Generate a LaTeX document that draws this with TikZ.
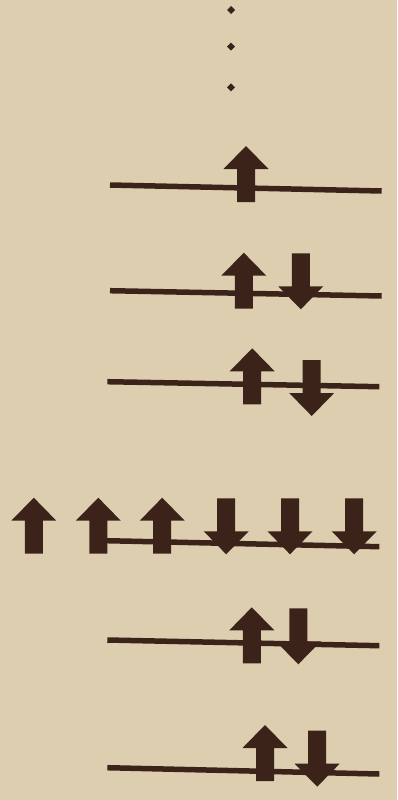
\documentclass[tikz,border=0pt]{standalone}
\usepackage{amsmath}
\usepackage{amssymb}
\definecolor{parchment}{RGB}{221,206,176}
\definecolor{spinbrown}{RGB}{60,35,26}

\begin{document}
\begin{tikzpicture}[x=1pt,y=-1pt]

% Parameters
\def\shaft{9}      % half width of the arrow shaft
\def\head{22.5}    % half width of the arrow head
\def\hlen{23}      % length of the arrow head
\def\alen{56}      % total length of one arrow

% Background (fixes the margins)
\fill[parchment] (0,0) rectangle (397,800);
\useasboundingbox (0,0) rectangle (397,800);

% Dots above the highest level
\foreach \y in {10,46.7,87.3} {
    \fill[spinbrown] (231,\y-4) -- (235,\y) -- (231,\y+4) -- (227,\y) -- cycle;
}

% Energy levels (slightly tilted lines)
\foreach \xa/\ya/\xb/\yb in {110/185/381.7/191, 110/290.7/381.7/296,
        107.3/381.7/379.3/386.7, 106.7/540.7/379.3/546.7,
        107.3/640/379.3/645.7, 107.3/767.7/379.3/774} {
    \draw[spinbrown, line width=5.5pt] (\xa,\ya) -- (\xb,\yb);
}

% Spin up arrows (x of centre / y of tip)
\foreach \x/\y in {246/146, 243.8/252.7, 252.2/348.3, 33.8/497.7,
        98.3/497.7, 162.2/497.7, 251.8/607.3, 265/725} {
    \fill[spinbrown] (\x-\shaft,\y+\alen) -- (\x-\shaft,\y+\hlen)
        -- (\x-\head,\y+\hlen) -- (\x,\y) -- (\x+\head,\y+\hlen)
        -- (\x+\shaft,\y+\hlen) -- (\x+\shaft,\y+\alen) -- cycle;
}

% Spin down arrows (x of centre / y of shaft top)
\foreach \x/\y in {300.8/253.3, 311.7/360, 226.2/498.3, 290/498.3,
        354.2/498.3, 298.3/608.3, 317.2/730.7} {
    \fill[spinbrown] (\x-\shaft,\y) -- (\x-\shaft,\y+\alen-\hlen)
        -- (\x-\head,\y+\alen-\hlen) -- (\x,\y+\alen) -- (\x+\head,\y+\alen-\hlen)
        -- (\x+\shaft,\y+\alen-\hlen) -- (\x+\shaft,\y) -- cycle;
}

\end{tikzpicture}
\end{document}
